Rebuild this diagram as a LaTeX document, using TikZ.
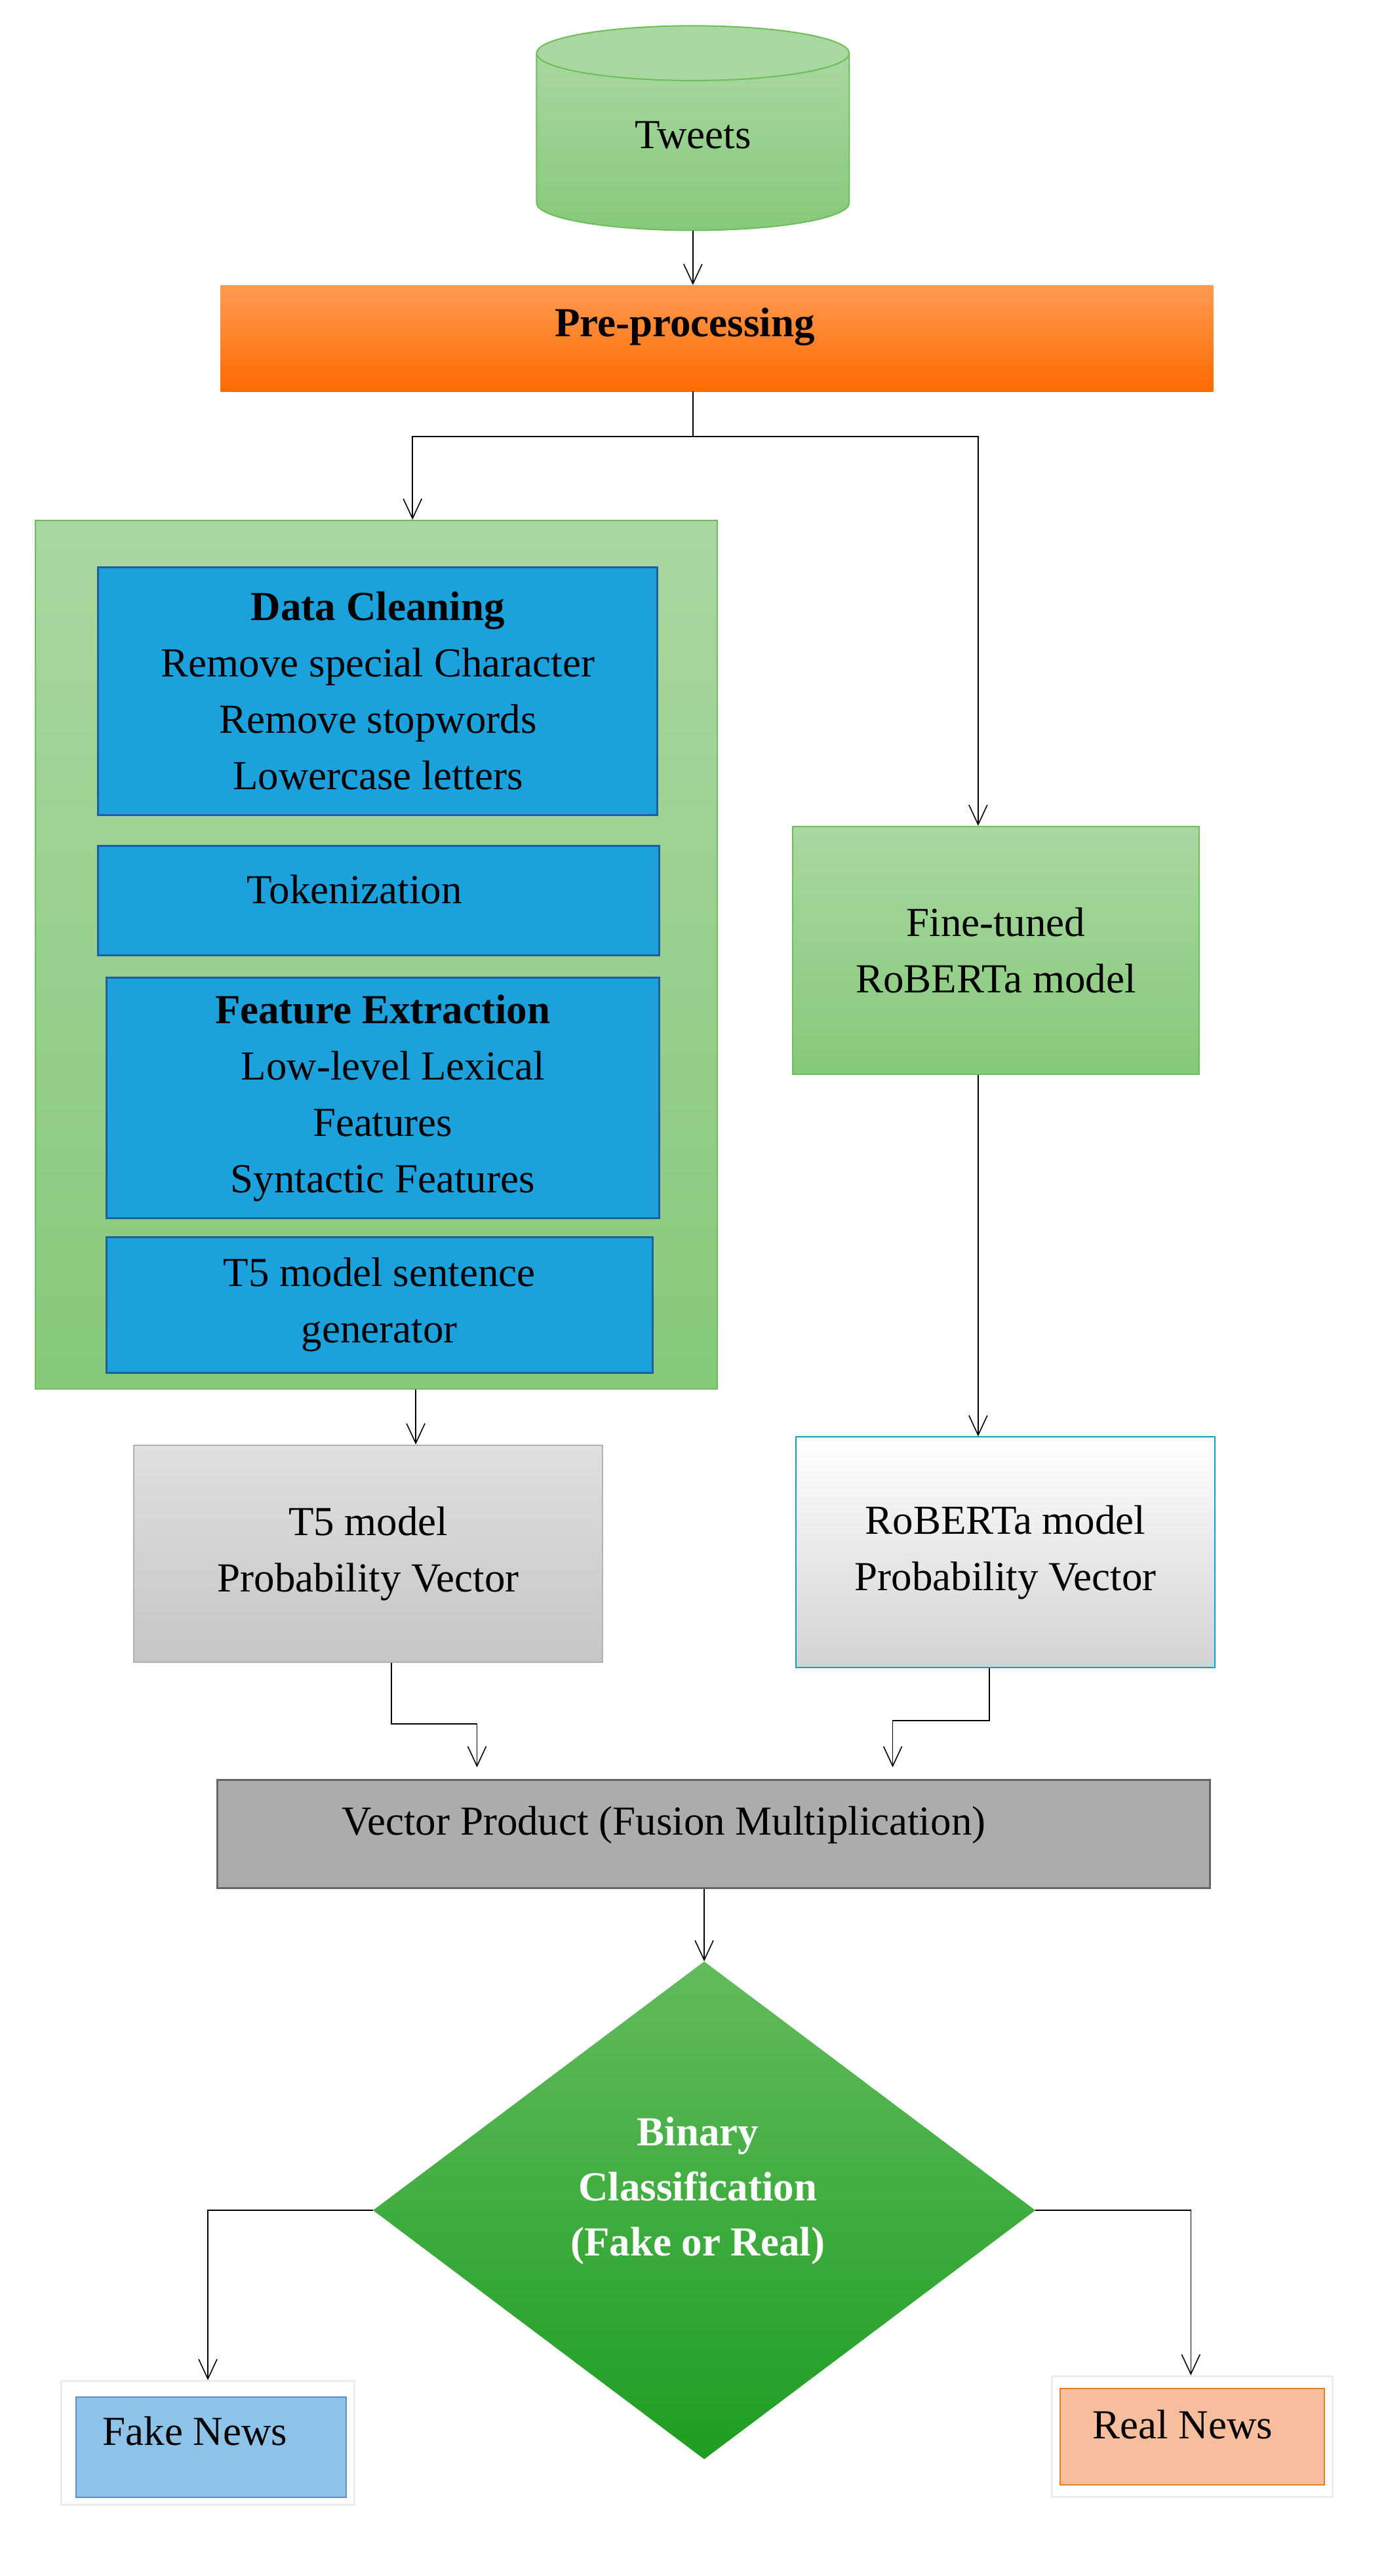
\documentclass[tikz,border=0pt]{standalone}
\usepackage{fontspec}
\setmainfont{Liberation Serif}
\usetikzlibrary{shapes.geometric,arrows.meta}
\definecolor{gA}{HTML}{A9D7A0}\definecolor{gB}{HTML}{86C97A}\definecolor{gE}{HTML}{6DBE5B}
\definecolor{oA}{HTML}{FF9A52}\definecolor{oB}{HTML}{FF6A00}
\definecolor{bl}{HTML}{1BA1DB}\definecolor{blE}{HTML}{1F5F9F}
\definecolor{dA}{HTML}{62BB5C}\definecolor{dB}{HTML}{1E9E22}
\definecolor{fk}{HTML}{8DC3E8}\definecolor{rl}{HTML}{F7BE9E}
\begin{document}
\begin{tikzpicture}[x=2.458pt,y=-2.458pt,
 every node/.style={font=\fontsize{63}{86}\selectfont,align=center,inner sep=0pt},
 arr/.style={-{Straight Barb[length=30pt,width=28pt]},line width=1.6pt},
 ln/.style={line width=1.6pt}]
\useasboundingbox (0,0) rectangle (860,1599);
% cylinder
\fill[top color=gA,bottom color=gB] (333,33) -- (333,126) arc[start angle=180,end angle=360,x radius=97,y radius=-17] -- (527,33) -- cycle;
\draw[gE,line width=2pt] (333,33) -- (333,126) arc[start angle=180,end angle=360,x radius=97,y radius=-17] -- (527,33);
\filldraw[fill=gA,draw=gE,line width=2pt] (430,33) ellipse[x radius=97,y radius=17];
\node[minimum width=194*2.458pt,minimum height=128*2.458pt] (tw) at (430,79) {};
\node at (430,84) {Tweets};
% preprocessing
\node[minimum width=616*2.458pt,minimum height=66*2.458pt,top color=oA,bottom color=oB] (pre) at (445,210) {};
\node at (425,203) {\bfseries Pre-processing};
% left green
\node[draw=gE,line width=2pt,top color=gA,bottom color=gB,minimum width=423*2.458pt,minimum height=539*2.458pt] (grn) at (233.5,592.5) {};
\tikzset{bb/.style={draw=blE,line width=3pt,fill=bl}}
\node[bb,minimum width=347*2.458pt,minimum height=154*2.458pt] (dc) at (234.5,429) {\textbf{Data Cleaning}\\Remove special Character\\Remove stopwords\\Lowercase letters};
\node[bb,minimum width=348*2.458pt,minimum height=68*2.458pt] (tok) at (235,559) {};
\node at (220,552) {Tokenization};
\node[bb,minimum width=343*2.458pt,minimum height=149*2.458pt] (fe) at (237.5,681.5) {\textbf{Feature Extraction}\\\ \ Low-level Lexical\\Features\\Syntactic Features};
\node[bb,minimum width=339*2.458pt,minimum height=84*2.458pt] (t5g) at (235.5,810) {T5 model sentence\\generator};
% right
\node[draw=gE,line width=2pt,top color=gA,bottom color=gB,minimum width=252*2.458pt,minimum height=154*2.458pt] (ft) at (618,590) {Fine-tuned\\RoBERTa model};
\node[draw=gray!60,line width=2pt,top color=gray!25,bottom color=gray!45,minimum width=291*2.458pt,minimum height=135*2.458pt] (t5p) at (228.5,964.5) {T5 model\\Probability Vector};
\node[draw=blE!60!cyan,line width=2pt,top color=white,bottom color=gray!35,minimum width=260*2.458pt,minimum height=143*2.458pt] (rp) at (624,963.5) {RoBERTa model\\Probability Vector};
\node[draw=gray!80!black,line width=3pt,fill=gray!65,minimum width=616*2.458pt,minimum height=67*2.458pt] (vp) at (443,1138.5) {};
\node at (412,1133) {Vector Product (Fusion Multiplication)};
% diamond
\node[diamond,top color=dA,bottom color=dB,minimum width=411*2.458pt,minimum height=309*2.458pt] (dm) at (437,1372) {};
\node[text=white,font=\fontsize{63}{84}\selectfont\bfseries] at (433,1360) {Binary\\Classification\\(Fake or Real)};
% outputs
\node[fill=white,minimum width=182*2.458pt,minimum height=77*2.458pt,draw=gray!15,line width=3pt] (fk) at (129,1516.5) {};
\node[draw=blE!70,line width=2pt,fill=fk,minimum width=168*2.458pt,minimum height=62*2.458pt] (fki) at (131,1519) {};
\node at (121,1509) {Fake News};
\node[fill=white,minimum width=174*2.458pt,minimum height=75*2.458pt,draw=gray!15,line width=3pt] (rl) at (740,1512.5) {};
\node[draw=orange!60!brown,line width=2pt,fill=rl,minimum width=164*2.458pt,minimum height=60*2.458pt] (rli) at (740,1512.5) {};
\node at (734,1505) {Real News};
% connectors
\draw[arr] (tw.south) -- (pre.north -| tw.south);
\coordinate (j) at (430,271);
\draw[ln] (pre.south -| j) -- (j);
\draw[arr] (j) -- (256,271) -- (grn.north -| 256,0);
\draw[arr] (j) -- (607,271) -- (ft.north -| 607,0);
\draw[arr] (grn.south -| 258,0) -- (t5p.north -| 258,0);
\draw[arr] (ft.south -| 607,0) -- (rp.north -| 607,0);
\draw[arr] (t5p.south -| 243,0) -- (243,1070) -- (296,1070) -- (296,1097);
\draw[arr] (rp.south -| 614,0) -- (614,1068) -- (554,1068) -- (554,1097);
\draw[arr] (vp.south -| dm.north) -- (dm.north);
\draw[arr] (dm.west) -- (129,1372) -- (fk.north -| 129,0);
\draw[arr] (dm.east) -- (739,1372) -- (rl.north -| 739,0);
\end{tikzpicture}
\end{document}
